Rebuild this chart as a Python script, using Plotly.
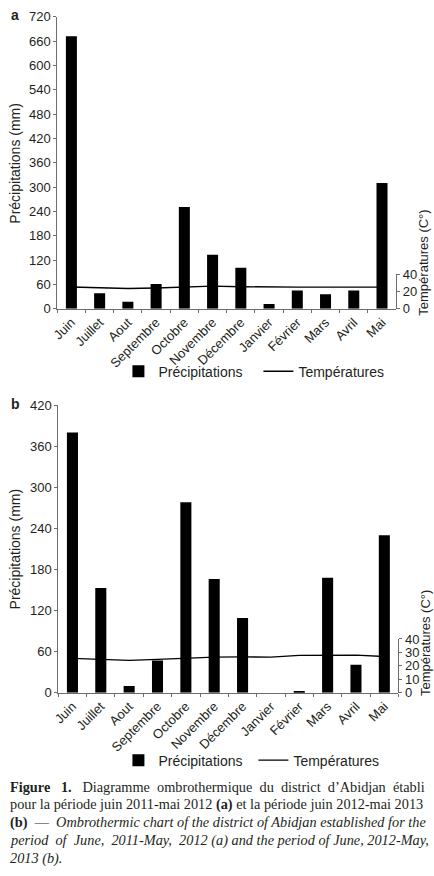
import plotly.graph_objects as go

months = ["Juin", "Juillet", "Aout", "Septembre", "Octobre", "Novembre", "Décembre",
          "Janvier", "Février", "Mars", "Avril", "Mai"]

# Chart a : juin 2011 - mai 2012
precip_a = [672, 38, 17, 61, 251, 133, 101, 12, 45, 36, 45, 310]
temp_a = [25.2, 24.6, 23.6, 24.2, 25.1, 26.3, 25.6, 25.1, 25.1, 25.1, 25.1, 25.1]

# Chart b : juin 2012 - mai 2013
precip_b = [380, 153, 10, 47, 278, 166, 109, 0, 2, 168, 41, 230]
temp_b = [25.6, 24.8, 24.1, 24.8, 25.6, 26.5, 26.7, 26.5, 27.8, 27.8, 28.0, 27.0]

prec_ticks_a = list(range(0, 721, 60))
prec_ticks_b = list(range(0, 421, 60))
temp_ticks_a = [0, 20, 40]
temp_ticks_b = [0, 10, 20, 30, 40]

W, H = 434, 876
TXT = "#231f20"
AX = "#6d6d6d"
SANS = "Liberation Sans, Arial, sans-serif"
SERIF = "Liberation Serif, Times New Roman, serif"
NB = "\u00a0"


def py(px):
    return 1 - px / H


def pxx(px):
    return px / W


fig = go.Figure()

fig.add_trace(go.Bar(x=months, y=precip_a, xaxis="x", yaxis="y", name="Précipitations",
                     marker=dict(color="black", line=dict(width=0)), legend="legend"))
fig.add_trace(go.Scatter(x=months, y=temp_a, xaxis="x", yaxis="y2", name="Températures",
                         mode="lines", line=dict(color="black", width=1.4), legend="legend"))
fig.add_trace(go.Bar(x=months, y=precip_b, xaxis="x2", yaxis="y3", name="Précipitations",
                     marker=dict(color="black", line=dict(width=0)), legend="legend2"))
fig.add_trace(go.Scatter(x=months, y=temp_b, xaxis="x2", yaxis="y4", name="Températures",
                         mode="lines", line=dict(color="black", width=1.4), legend="legend2"))

xcommon = dict(type="category", categoryorder="array", categoryarray=months,
               tickangle=-45, tickson="boundaries", ticks="outside", ticklen=3,
               tickcolor=AX, showline=True, linecolor=AX, linewidth=1,
               showgrid=False, zeroline=False,
               tickfont=dict(family=SANS, size=13, color=TXT))
ycommon = dict(ticks="outside", ticklen=3, tickcolor=AX, showline=True, linecolor=AX,
               linewidth=1, showgrid=False, zeroline=False,
               tickfont=dict(family=SANS, size=13, color=TXT))

fig.update_layout(
    width=W, height=H,
    margin=dict(l=0, r=0, t=0, b=0),
    paper_bgcolor="white", plot_bgcolor="rgba(0,0,0,0)",
    bargap=0.61,
    showlegend=True,
    xaxis=dict(domain=[pxx(52), pxx(395.6)], anchor="y", **xcommon),
    yaxis=dict(domain=[py(307), py(10)], range=[0, 720], tickvals=prec_ticks_a,
               anchor="x", **ycommon),
    yaxis2=dict(domain=[py(307), py(272)], range=[0, 40], tickvals=temp_ticks_a,
                anchor="x", side="right", **ycommon),
    xaxis2=dict(domain=[pxx(53), pxx(398)], anchor="y3", **xcommon),
    yaxis3=dict(domain=[py(697.7), py(405)], range=[0, 420], tickvals=prec_ticks_b,
                anchor="x2", **ycommon),
    yaxis4=dict(domain=[py(697.7), py(643)], range=[0, 40], tickvals=temp_ticks_b,
                anchor="x2", side="right", **ycommon),
    legend=dict(orientation="h", x=pxx(114), xanchor="left", y=py(371), yanchor="middle",
                font=dict(family=SANS, size=14, color=TXT), bgcolor="rgba(0,0,0,0)",
                entrywidth=95, traceorder="normal"),
    legend2=dict(orientation="h", x=pxx(114), xanchor="left", y=py(766.7), yanchor="middle",
                 font=dict(family=SANS, size=14, color=TXT), bgcolor="rgba(0,0,0,0)",
                 entrywidth=90, traceorder="normal"),
)

annotations = [
    dict(text="<b>a</b>", x=pxx(3), y=py(8), xanchor="left", yanchor="middle"),
    dict(text="<b>b</b>", x=pxx(3), y=py(404), xanchor="left", yanchor="middle"),
]
for a in annotations:
    a.update(xref="paper", yref="paper", showarrow=False,
             font=dict(family=SANS, size=14, color=TXT))

rot_titles = [
    ("Précipitations (mm)", 9, 158.5, 14),
    ("Précipitations (mm)", 9, 551, 14),
    ("Températures (C°)", 423, 260, 13),
    ("Températures (C°)", 426, 647, 13),
]
for t, xx, yy, fs in rot_titles:
    annotations.append(dict(text=t, x=pxx(xx), y=py(yy), textangle=-90,
                            xanchor="center", yanchor="middle", xref="paper", yref="paper",
                            showarrow=False, font=dict(family=SANS, size=fs, color=TXT)))


def justify(words, extra):
    gaps = len(words) - 1
    out = words[0]
    for i, w in enumerate(words[1:]):
        n = extra // gaps + (1 if i < extra % gaps else 0)
        out += " " + NB * n + w
    return out


caption = [
    justify(["<b>Figure", "1.</b>", "Diagramme", "ombrothermique", "du", "district",
             "d’Abidjan", "établi"], 9),
    "pour la période juin 2011-mai 2012 <b>(a)</b> et la période juin 2012-mai 2013",
    justify(["<b>(b)</b>", "—", "<i>Ombrothermic", "chart", "of", "the", "district", "of",
             "Abidjan", "established", "for", "the</i>"], 2),
    justify(["<i>period", "of", "June,", "2011-May,", "2012", "(a)", "and", "the", "period",
             "of", "June,", "2012-May,</i>"], 4),
    "<i>2013 (b).</i>",
]
cap_y = [793.5, 811.5, 830, 848.5, 866.5]
for t, yy in zip(caption, cap_y):
    annotations.append(dict(text=t, x=pxx(2), y=py(yy), xanchor="left", yanchor="middle",
                            xref="paper", yref="paper", showarrow=False, align="left",
                            font=dict(family=SERIF, size=14.3, color=TXT)))

fig.update_layout(annotations=annotations)

fig.write_html(
    "out.html",
    config={"displayModeBar": False},
    post_script="document.body.style.margin='0px';document.body.style.padding='0px';"
                "document.body.style.overflow='hidden';",
)
